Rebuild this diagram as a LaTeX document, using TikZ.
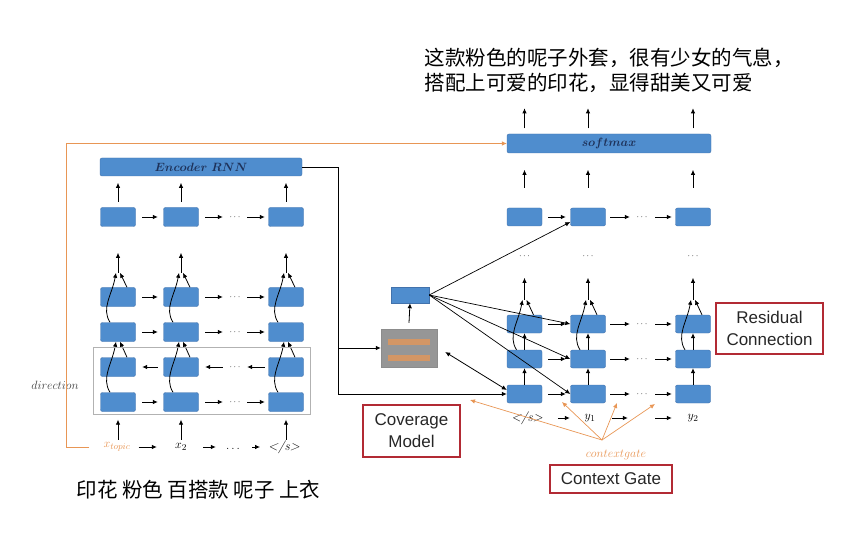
\documentclass[tikz,border=0pt]{standalone}
\usepackage{fontspec}
\usepackage{tikz}
\usetikzlibrary{arrows.meta}
\newfontfamily\cjk{Noto Sans CJK SC}
\newfontfamily\labelfont{Liberation Sans}

\definecolor{cellblue}{RGB}{79,141,206}
\definecolor{celledge}{RGB}{66,114,172}
\definecolor{navy}{RGB}{30,50,90}
\definecolor{gateorange}{RGB}{232,150,85}
\definecolor{boxred}{RGB}{178,42,52}
\definecolor{covgray}{RGB}{150,150,150}

\begin{document}
\begin{tikzpicture}[x=1pt,y=1pt,>={Latex[length=5pt,width=4.5pt]}]
\tikzstyle{cell}=[draw=celledge,fill=cellblue,rounded corners=2pt,minimum width=35pt,minimum height=19pt,inner sep=0pt]
\tikzstyle{bar}=[cell,font=\fontsize{12}{13}\selectfont\boldmath\color{navy}]
\tikzstyle{tag}=[draw=boxred,line width=1.3pt,align=center,inner sep=0pt,font=\labelfont\fontsize{17}{22}\selectfont,text=black!85]
\tikzstyle{arr}=[->,line width=0.8pt]
\tikzstyle{garr}=[->,line width=0.7pt,draw=gateorange]
\tikzstyle{dots}=[inner sep=0pt,minimum width=12pt,font=\small]
\tikzstyle{lbl}=[inner sep=0pt,minimum width=26pt,minimum height=14pt,font=\fontsize{13}{15}\selectfont]

\useasboundingbox (0,0) rectangle (865,539);

% output sentence and input keywords
\node[anchor=west,align=left,font=\cjk\fontsize{20.5}{25}\selectfont] (title) at (421,468.5) {这款粉色的呢子外套，很有少女的气息，\\搭配上可爱的印花，显得甜美又可爱};
\node[anchor=west,font=\cjk\fontsize{20.5}{25}\selectfont] (keys) at (73,49) {印花 粉色 百搭款 呢子 上衣};

% encoder
\node[bar,minimum width=202pt,minimum height=18pt] (enc) at (201,372) {$Encoder\ RNN$};
\foreach \c/\x in {1/118,2/181,3/286}{
  \foreach \r/\y in {1/322,2/242,3/207,4/172,5/137}
    \node[cell] (e\r\c) at (\x,\y) {};
  \draw[arr] ([yshift=5.5pt]e1\c.north) -- ++(0,19);
  \draw[arr] ([yshift=14.5pt]e2\c.north) -- ++(0,20);
  \draw[arr] ([xshift=9pt]e2\c.north) -- ([xshift=2pt,yshift=14.5pt]e2\c.north);
  \draw[arr] ([xshift=-8pt]e3\c.north) .. controls +(-9,14) and +(-4,-22) .. ([xshift=-2pt,yshift=14.5pt]e2\c.north);
  \draw[arr] ([xshift=9pt]e4\c.north) -- ([xshift=2pt]e3\c.south);
  \draw[arr] ([xshift=-8pt]e5\c.north) .. controls +(-9,14) and +(-4,-22) .. ([xshift=-2pt]e3\c.south);
}
\foreach \r/\y in {1/322,2/242,3/207,5/137}{
  \node[dots] (ed\r) at (235,\y) {$\cdots$};
  \draw[arr,shorten <=6.5pt,shorten >=5.5pt] (e\r1) -- (e\r2);
  \draw[arr,shorten <=6.5pt,shorten >=6pt] (e\r2) -- (ed\r);
  \draw[arr,shorten <=6pt,shorten >=3.5pt] (ed\r) -- (e\r3);
}
\node[dots] (ed4) at (235,172) {$\cdots$};
\draw[arr,shorten <=5.5pt,shorten >=6.5pt] (e42) -- (e41);
\draw[arr,shorten <=6pt,shorten >=6.5pt] (ed4) -- (e42);
\draw[arr,shorten <=3.5pt,shorten >=6pt] (e43) -- (ed4);

\draw[black!30,line width=0.6pt] (93,125) rectangle (310,192);
\node[font=\fontsize{12}{13}\selectfont,text=black!75] (dir) at (55,154) {$direction$};

\node[lbl,text=gateorange] (xt) at (117,92) {$x_{topic}$};
\node[lbl] (x2) at (181,92) {$x_2$};
\node[lbl] (xd) at (233,92) {\raisebox{-5pt}{$\ldots$}};
\node[lbl] (xs) at (284,92) {\textit{</s>}};
\draw[arr,shorten <=8pt,shorten >=11pt] (xt) -- (x2);
\draw[arr,shorten <=9pt,shorten >=4pt] (x2) -- (xd);
\draw[arr,shorten <=6pt,shorten >=8pt] (xd) -- (xs);
\foreach \n/\c in {xt/1,x2/2,xs/3}
  \draw[arr] (e5\c.south |- \n.north) -- ([yshift=-8pt]e5\c.south);

% decoder
\node[bar,minimum width=204pt] (soft) at (609,395.5) {$softmax$};
\draw[garr] ([xshift=-14pt]xt.west) -- ++(-23,0) |- (soft.west);
\foreach \c/\x in {1/524.5,2/588,3/693}{
  \foreach \r/\y in {0/322,1/215,2/180,3/145}
    \node[cell,minimum height=18pt] (d\r\c) at (\x,\y) {};
  \node[dots] (dd\c) at (\x,283) {$\cdots$};
  \draw[arr] ([yshift=79.5pt]d0\c.north) -- ++(0,20);
  \draw[arr] ([yshift=20pt]d0\c.north) -- ++(0,18);
  \draw[arr] ([yshift=15pt]d1\c.north) -- ++(0,22);
  \draw[arr] ([xshift=9pt]d1\c.north) -- ([xshift=2pt,yshift=15pt]d1\c.north);
  \draw[arr] ([xshift=-8pt]d2\c.north) .. controls +(-9,14) and +(-4,-22) .. ([xshift=-2pt,yshift=15pt]d1\c.north);
  \draw[arr] (d3\c) -- (d2\c);
  \draw[arr] (d2\c) -- (d1\c);
}
\foreach \r/\y in {0/322,1/215,2/180,3/145}{
  \node[dots] (dh\r) at (642,\y) {$\cdots$};
  \draw[arr,shorten <=6pt,shorten >=4.5pt] (d\r1) -- (d\r2);
  \draw[arr,shorten <=4.5pt,shorten >=6pt] (d\r2) -- (dh\r);
  \draw[arr,shorten <=7pt,shorten >=3.5pt] (dh\r) -- (d\r3);
}
\node[lbl] (ys) at (527,121) {\textit{</s>}};
\node[lbl] (y1) at (590,121) {$y_1$};
\node[lbl] (yg) at (641,121) {};
\node[lbl] (y2) at (693,121) {$y_2$};
\draw[arr,shorten <=15pt,shorten >=7pt] (ys) -- (y1);
\draw[arr,shorten <=9pt] (y1) -- (yg);
\draw[arr,shorten <=1pt,shorten >=8pt] (yg) -- (y2);

% coverage and attention
\node[fill=covgray,draw=black!45,minimum width=56pt,minimum height=38pt,inner sep=0pt] (cov) at (409,191) {};
\fill[gateorange!75!covgray] ([xshift=-21pt,yshift=3pt]cov.center) rectangle ([xshift=21pt,yshift=9pt]cov.center);
\fill[gateorange!75!covgray] ([xshift=-21pt,yshift=-13pt]cov.center) rectangle ([xshift=21pt,yshift=-7pt]cov.center);
\node[cell,minimum width=38pt,minimum height=16pt,rounded corners=0pt] (att) at (410,244) {};
\draw[arr] ([yshift=6pt]cov.north) -- (att.south);
\draw[arr,line width=0.7pt] (att.east) -- ([yshift=-5pt]d02.west);
\foreach \t in {d12,d22,d32}
  \draw[arr,line width=0.7pt] (att.east) -- (\t.west);

\coordinate (split) at (338,191);
\draw[line width=0.8pt] (enc.east) -| (split);
\draw[arr] (split) -- (cov.west);
\draw[arr] (split) |- (d31.west);
\draw[<->,line width=0.8pt] ([xshift=8pt,yshift=-4pt]cov.east) -- ([yshift=4pt]d31.west);

% context gate
\coordinate (cg) at (602,99);
\coordinate (g0) at (470,139);
\coordinate (g1) at (562,137);
\coordinate (g2) at (617,136);
\coordinate (g3) at (655,135);
\foreach \g in {g0,g1,g2,g3}
  \draw[garr] (cg) -- (\g);
\node[font=\fontsize{13}{14}\selectfont,text=gateorange] (cgl) at (616,84) {$contextgate$};

\node[tag,minimum width=107pt,minimum height=51pt] (res) at (769.5,210.5) {Residual\\Connection};
\node[tag,minimum width=97pt,minimum height=52pt] (covm) at (411.5,108) {Coverage\\Model};
\node[tag,minimum width=122pt,minimum height=28pt] (ctx) at (611,60) {Context Gate};
\end{tikzpicture}
\end{document}
